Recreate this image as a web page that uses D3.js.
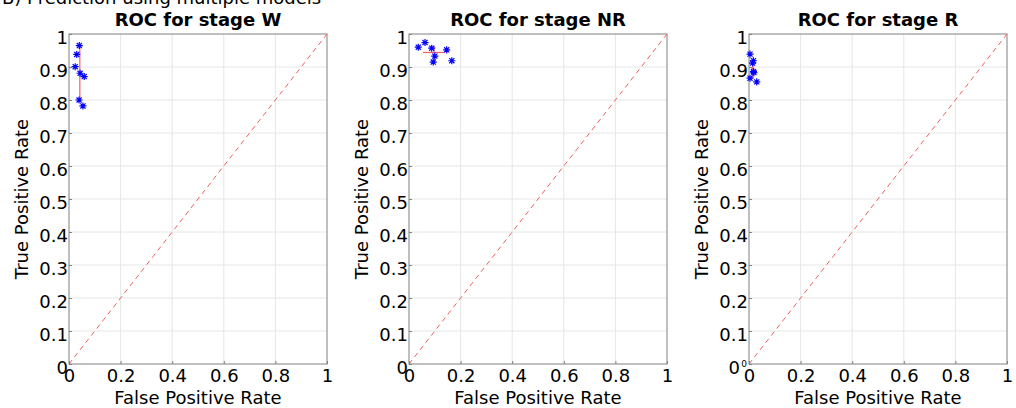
<!DOCTYPE html>
<html>
<head>
<meta charset="utf-8">
<script src="https://cdn.jsdelivr.net/npm/d3@7"></script>
<style>
  body { margin: 0; background: #fff; }
  svg { display: block; font-family: "DejaVu Sans", sans-serif; }
</style>
</head>
<body>
<svg width="1016" height="408"></svg>
<script>
// ROC points per stage (one per model)
var stages = ['W', 'NR', 'R'];
var fprW  = [0.040, 0.030, 0.024, 0.043, 0.059, 0.039, 0.054];
var tprW  = [0.965, 0.938, 0.901, 0.881, 0.871, 0.800, 0.782];
var fprNR = [0.036, 0.062, 0.088, 0.100, 0.094, 0.146, 0.166];
var tprNR = [0.960, 0.974, 0.957, 0.933, 0.915, 0.952, 0.919];
var fprR  = [0.004, 0.017, 0.014, 0.017, 0.019, 0.004, 0.030];
var tprR  = [0.939, 0.919, 0.912, 0.886, 0.883, 0.866, 0.855];
// mean and error bars
var meanFpr = [0.042, 0.097, 0.015];
var meanTpr = [0.880, 0.944, 0.896];
var errFpr  = [0.004, 0.043, 0.006];
var errTpr  = [0.083, 0.020, 0.030];
var xTicks = [0, 0.2, 0.4, 0.6, 0.8, 1];
var yTicks = [0, 0.1, 0.2, 0.3, 0.4, 0.5, 0.6, 0.7, 0.8, 0.9, 1];

var pts = [[fprW, tprW], [fprNR, tprNR], [fprR, tprR]];
var lefts = [69, 409, 749];
var plotTop = 34, w = 258, h = 330;

var svg = d3.select('svg');

svg.append('text').attr('x', 2).attr('y', 4)
   .style('font-size', '18px').attr('fill', '#000')
   .text('B) Prediction using multiple models');

// matlab style '*' marker
var star = {
  draw: function (ctx, size) {
    var r = Math.sqrt(size) / 2, d = r * 0.72;
    ctx.moveTo(-r, 0); ctx.lineTo(r, 0);
    ctx.moveTo(0, -r); ctx.lineTo(0, r);
    ctx.moveTo(-d, -d); ctx.lineTo(d, d);
    ctx.moveTo(-d, d); ctx.lineTo(d, -d);
  }
};

function fmt(d) { return d === 0 || d === 1 ? d : d.toFixed(1); }

stages.forEach(function (s, k) {
  var x = d3.scaleLinear().domain([0, 1]).range([0, w]);
  var y = d3.scaleLinear().domain([0, 1]).range([h, 0]);
  var g = svg.append('g').attr('transform', 'translate(' + lefts[k] + ',' + plotTop + ')');

  // grid
  g.append('g').selectAll('line').data(xTicks.slice(1, -1)).enter().append('line')
    .attr('x1', x).attr('x2', x).attr('y1', 0).attr('y2', h)
    .attr('stroke', '#e6e6e6');
  g.append('g').selectAll('line').data(yTicks.slice(1, -1)).enter().append('line')
    .attr('y1', y).attr('y2', y).attr('x1', 0).attr('x2', w)
    .attr('stroke', '#e6e6e6');

  // axes
  var xa = g.append('g').attr('transform', 'translate(0,' + h + ')')
    .call(d3.axisBottom(x).tickValues(xTicks).tickSizeInner(-3).tickSizeOuter(0).tickPadding(6).tickFormat(fmt));
  var ya = g.append('g')
    .call(d3.axisLeft(y).tickValues(yTicks).tickSizeInner(-3).tickSizeOuter(0).tickPadding(1).tickFormat(fmt));
  [xa, ya].forEach(function (a) {
    a.select('.domain').remove();
    a.selectAll('line').attr('stroke', '#808080');
    a.selectAll('text').style('font-size', '18px').attr('fill', '#000')
      .style('font-family', '"DejaVu Sans", sans-serif');
  });
  ya.selectAll('text').attr('dy', '0.55em');
  xa.selectAll('text').attr('dy', '0.68em');
  if (k === 2) ya.selectAll('text').filter(function (d) { return d === 0; }).attr('x', -9);

  g.append('rect').attr('width', w).attr('height', h)
    .attr('fill', 'none').attr('stroke', '#808080').attr('stroke-width', 1);

  // chance line
  g.append('line').attr('x1', x(0)).attr('y1', y(0)).attr('x2', x(1)).attr('y2', y(1))
    .attr('stroke', '#f06060').attr('stroke-dasharray', '5,4').attr('stroke-width', 1);

  // error bars
  var eb = g.append('g').attr('stroke', '#f0606a').attr('stroke-width', 1.2);
  eb.append('line').attr('x1', x(meanFpr[k])).attr('x2', x(meanFpr[k]))
    .attr('y1', y(meanTpr[k] - errTpr[k])).attr('y2', y(meanTpr[k] + errTpr[k]));
  eb.append('line').attr('y1', y(meanTpr[k])).attr('y2', y(meanTpr[k]))
    .attr('x1', x(meanFpr[k] - errFpr[k])).attr('x2', x(meanFpr[k] + errFpr[k]));

  // points
  var fp = pts[k][0], tp = pts[k][1];
  g.append('g').selectAll('path').data(fp).enter().append('path')
    .attr('d', d3.symbol().type(star).size(50))
    .attr('transform', function (d, i) { return 'translate(' + x(d) + ',' + y(tp[i]) + ')'; })
    .attr('stroke', '#0000ff').attr('stroke-width', 1.2).attr('fill', 'none');

  // labels
  g.append('text').attr('x', w / 2).attr('y', -8).attr('text-anchor', 'middle')
    .style('font-size', '18px').style('font-weight', 'bold').text('ROC for stage ' + s);
  g.append('text').attr('x', w / 2).attr('y', h + 40).attr('text-anchor', 'middle')
    .style('font-size', '18px').text('False Positive Rate');
  g.append('text').attr('transform', 'translate(-41,' + h / 2 + ') rotate(-90)')
    .attr('text-anchor', 'middle').style('font-size', '18px').text('True Positive Rate');
});

svg.append('text').attr('x', 744).attr('y', 367).attr('text-anchor', 'middle')
   .style('font-size', '9px').text('0');
</script>
</body>
</html>
